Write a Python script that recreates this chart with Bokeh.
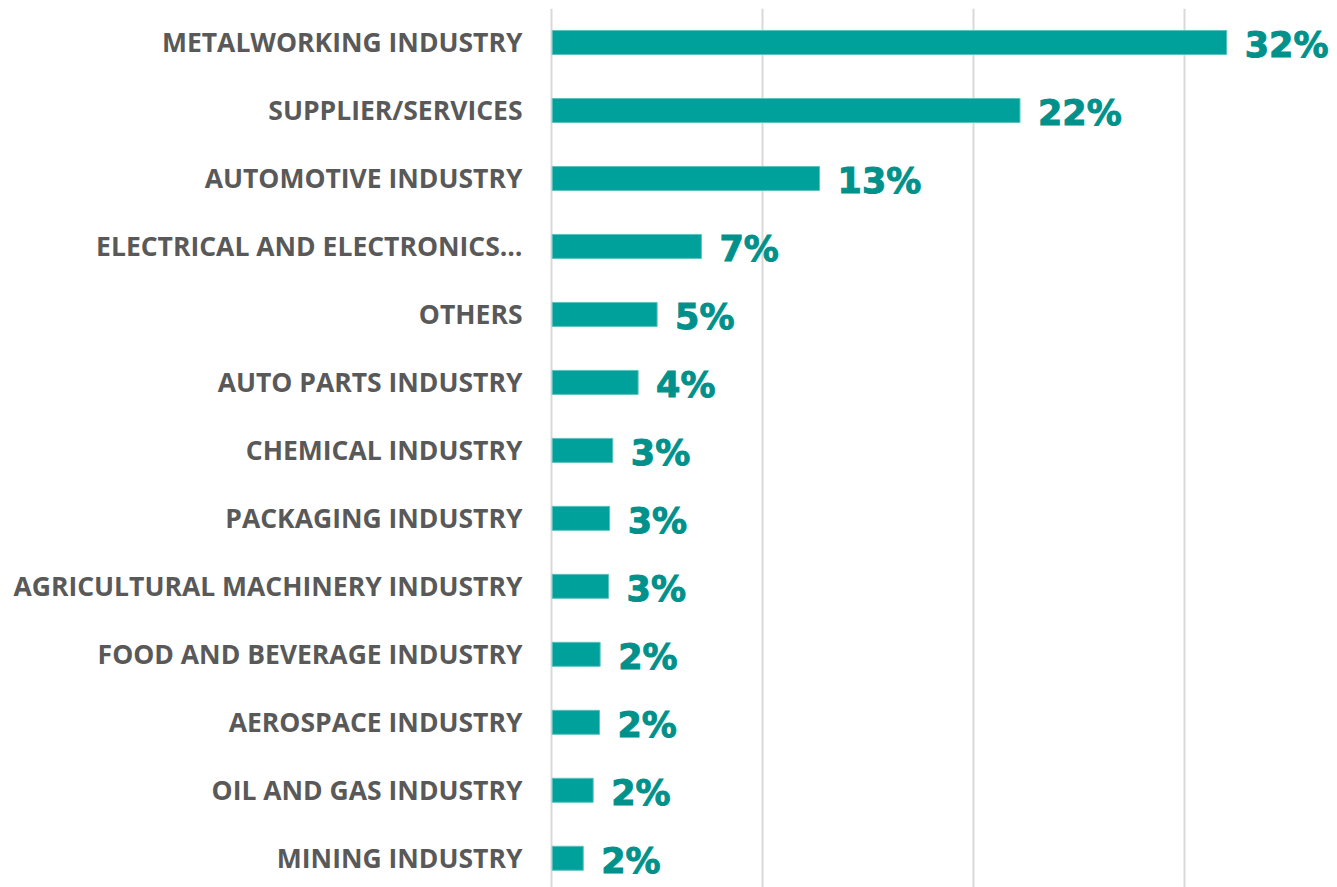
from bokeh.plotting import figure
from bokeh.models import ColumnDataSource, Range1d, FixedTicker
from bokeh.core.properties import value
from bokeh.embed import file_html
from bokeh.resources import INLINE

categories = [
    "METALWORKING INDUSTRY", "SUPPLIER/SERVICES", "AUTOMOTIVE INDUSTRY",
    "ELECTRICAL AND ELECTRONICS…", "OTHERS", "AUTO PARTS INDUSTRY",
    "CHEMICAL INDUSTRY", "PACKAGING INDUSTRY", "AGRICULTURAL MACHINERY INDUSTRY",
    "FOOD AND BEVERAGE INDUSTRY", "AEROSPACE INDUSTRY", "OIL AND GAS INDUSTRY",
    "MINING INDUSTRY",
]
shares = [32.0, 22.2, 12.7, 7.1, 5.0, 4.1, 2.9, 2.75, 2.7, 2.3, 2.27, 1.97, 1.5]
share_labels = ["32%", "22%", "13%", "7%", "5%", "4%", "3%", "3%", "3%", "2%", "2%", "2%", "2%"]
grid_ticks = [0, 10, 20, 30]

pos = list(range(len(categories)))
src = ColumnDataSource(dict(y=pos, v=shares, lab=share_labels, cat=categories))

# frame: 0% at x=551px, 10% = 211px
p = figure(width=1337, height=887, output_backend="svg", toolbar_location=None,
           x_range=Range1d(-0.1, 37.25), y_range=Range1d(12.43, -0.5),
           min_border_left=549, min_border_right=0, min_border_top=8, min_border_bottom=0)
p.outline_line_color = None
p.background_fill_color = "white"
p.border_fill_color = "white"

p.hbar(y="y", left=0.03, right="v", height=0.353, source=src,
       fill_color="#00A19B", line_color="#5CC2BE", line_width=1)

p.text(x="v", y="y", text="lab", source=src, x_offset=18, y_offset=3,
       text_align="left", text_baseline="middle",
       text_font=value("DejaVu Sans"), text_font_style="bold",
       text_font_size="35px", text_color="#00918B",
       text_outline_color="#00918B")

p.xaxis.visible = False
p.xgrid.ticker = FixedTicker(ticks=grid_ticks)
p.xgrid.grid_line_color = "#D9D9D9"
p.xgrid.grid_line_width = 2
p.ygrid.grid_line_color = None

p.yaxis.ticker = FixedTicker(ticks=pos)
p.yaxis.major_label_overrides = {i: c for i, c in enumerate(categories)}
p.yaxis.axis_line_color = None
p.yaxis.major_tick_line_color = None
p.yaxis.minor_tick_line_color = None
p.yaxis.major_label_standoff = 21
p.yaxis.major_label_text_font = "Open Sans"
p.yaxis.major_label_text_font_style = "bold"
p.yaxis.major_label_text_font_size = "26.5px"
p.yaxis.major_label_text_color = "#595959"

open("out.html", "w").write(file_html(p, INLINE))
